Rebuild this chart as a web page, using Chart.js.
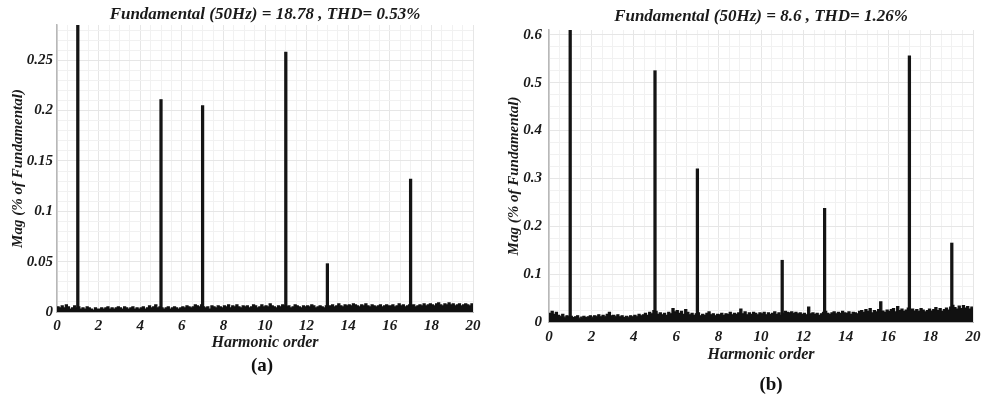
<!DOCTYPE html>
<html>
<head>
<meta charset="utf-8">
<script src="https://cdn.jsdelivr.net/npm/chart.js@4/dist/chart.umd.min.js"></script>
<style>
  body { margin: 0; background: #fff; width: 987px; height: 398px; position: relative; overflow: hidden; }
  canvas { position: absolute; top: 0; }
  .caption { position: absolute; font: bold 19px 'Liberation Serif', 'Times New Roman', serif; color: #111; transform: translate(-50%, -50%); }
</style>
</head>
<body>
<canvas id="chart_a" width="492" height="398" style="left:0"></canvas>
<canvas id="chart_b" width="495" height="398" style="left:492px"></canvas>
<div class="caption" style="left:262px;top:365px">(a)</div>
<div class="caption" style="left:771px;top:384px">(b)</div>
<script>
// spectrum bins are 0.1 harmonic order apart, from 0 to 20
const binStep = 0.1;

// case (a): low-level spectrum floor, % of fundamental
const noise_a = [
  0.005, 0.004, 0.006, 0.004, 0.007, 0.005, 0.003, 0.004, 0.006, 0.004,
  0.005, 0.003, 0.004, 0.003, 0.005, 0.004, 0.003, 0.002, 0.004, 0.003,
  0.003, 0.004, 0.003, 0.004, 0.005, 0.003, 0.004, 0.003, 0.004, 0.005,
  0.004, 0.003, 0.005, 0.004, 0.003, 0.004, 0.005, 0.003, 0.004, 0.003,
  0.004, 0.005, 0.003, 0.004, 0.006, 0.004, 0.005, 0.007, 0.004, 0.005,
  0.004, 0.003, 0.004, 0.005, 0.003, 0.004, 0.005, 0.004, 0.003, 0.004,
  0.005, 0.004, 0.006, 0.005, 0.004, 0.005, 0.007, 0.006, 0.005, 0.007,
  0.005, 0.004, 0.005, 0.003, 0.006, 0.005, 0.004, 0.006, 0.005, 0.004,
  0.006, 0.005, 0.007, 0.004, 0.006, 0.005, 0.007, 0.005, 0.004, 0.006,
  0.005, 0.006, 0.004, 0.005, 0.007, 0.006, 0.004, 0.005, 0.007, 0.005,
  0.006, 0.005, 0.008, 0.006, 0.005, 0.004, 0.006, 0.005, 0.007, 0.006,
  0.005, 0.006, 0.004, 0.005, 0.007, 0.006, 0.005, 0.004, 0.006, 0.005,
  0.006, 0.005, 0.007, 0.006, 0.004, 0.005, 0.006, 0.005, 0.004, 0.006,
  0.005, 0.006, 0.007, 0.005, 0.006, 0.008, 0.006, 0.005, 0.007, 0.006,
  0.007, 0.006, 0.008, 0.007, 0.006, 0.005, 0.007, 0.006, 0.008, 0.006,
  0.005, 0.007, 0.006, 0.005, 0.006, 0.007, 0.005, 0.006, 0.007, 0.006,
  0.006, 0.007, 0.005, 0.006, 0.008, 0.006, 0.007, 0.005, 0.006, 0.007,
  0.006, 0.007, 0.005, 0.006, 0.007, 0.006, 0.008, 0.006, 0.007, 0.008,
  0.007, 0.006, 0.008, 0.009, 0.007, 0.006, 0.008, 0.007, 0.009, 0.007,
  0.008, 0.006, 0.007, 0.008, 0.006, 0.007, 0.008, 0.007, 0.006, 0.008,
  0.007
];
const orders_a = [1, 5, 7, 11, 13, 17];
const mags_a = [100, 0.211, 0.205, 0.258, 0.048, 0.132];

// case (b)
const noise_b = [
  0.018, 0.022, 0.016, 0.020, 0.014, 0.012, 0.016, 0.010, 0.013, 0.011,
  0.012, 0.009, 0.011, 0.013, 0.008, 0.010, 0.012, 0.009, 0.011, 0.013,
  0.010, 0.013, 0.012, 0.015, 0.011, 0.014, 0.012, 0.016, 0.020, 0.013,
  0.014, 0.012, 0.015, 0.011, 0.013, 0.009, 0.012, 0.010, 0.013, 0.011,
  0.014, 0.012, 0.016, 0.013, 0.015, 0.018, 0.014, 0.020, 0.017, 0.024,
  0.022, 0.016, 0.019, 0.015, 0.018, 0.014, 0.020, 0.017, 0.028, 0.021,
  0.024, 0.018, 0.022, 0.016, 0.026, 0.020, 0.015, 0.018, 0.014, 0.017,
  0.019, 0.013, 0.016, 0.014, 0.018, 0.021, 0.015, 0.017, 0.013, 0.016,
  0.015, 0.018, 0.014, 0.017, 0.016, 0.020, 0.015, 0.018, 0.016, 0.019,
  0.027, 0.017, 0.021, 0.015, 0.019, 0.016, 0.020, 0.018, 0.015, 0.019,
  0.017, 0.020, 0.015, 0.019, 0.016, 0.018, 0.021, 0.016, 0.019, 0.014,
  0.018, 0.022, 0.020, 0.019, 0.021, 0.018, 0.020, 0.017, 0.019, 0.016,
  0.018, 0.015, 0.031, 0.017, 0.019, 0.016, 0.018, 0.014, 0.017, 0.020,
  0.022, 0.018, 0.016, 0.019, 0.021, 0.017, 0.020, 0.018, 0.022, 0.019,
  0.018, 0.021, 0.016, 0.020, 0.019, 0.017, 0.022, 0.024, 0.020, 0.026,
  0.022, 0.028, 0.019, 0.024, 0.021, 0.026, 0.042, 0.023, 0.020, 0.025,
  0.022, 0.026, 0.028, 0.021, 0.032, 0.024, 0.027, 0.022, 0.025, 0.029,
  0.024, 0.027, 0.023, 0.026, 0.022, 0.028, 0.025, 0.021, 0.024, 0.027,
  0.023, 0.026, 0.030, 0.024, 0.028, 0.022, 0.026, 0.029, 0.025, 0.031,
  0.035, 0.030, 0.027, 0.033, 0.028, 0.034, 0.029, 0.032, 0.027, 0.031,
  0.030
];
const orders_b = [1, 5, 7, 11, 13, 17, 19];
const mags_b = [100, 0.525, 0.32, 0.129, 0.2375, 0.556, 0.165];

const FAMILY = "'Liberation Serif', 'Times New Roman', serif";
const textColor = '#1a1a1a';

function isMultiple(v, step) {
  const r = v / step;
  return Math.abs(r - Math.round(r)) < 1e-6;
}

function render_chart(id, cfg) {
  const ctx = document.getElementById(id).getContext('2d');
  const floor = cfg.noise.map((v, i) => ({ x: +(i * binStep).toFixed(1), y: v }));
  const spikes = cfg.orders.map((h, i) => ({ x: h, y: cfg.mags[i] }));
  const tickFont = { family: FAMILY, size: 15, weight: 'bold', style: 'italic' };

  return new Chart(ctx, {
    type: 'bar',
    data: {
      datasets: [
        {
          type: 'line',
          data: floor,
          stepped: true,
          fill: 'origin',
          backgroundColor: '#111',
          borderColor: '#111',
          borderWidth: 1.2,
          pointRadius: 0
        },
        {
          type: 'bar',
          data: spikes,
          backgroundColor: '#141414',
          barThickness: 2.6
        }
      ]
    },
    options: {
      responsive: false,
      animation: false,
      layout: { padding: { left: 0, right: cfg.padRight, top: 0, bottom: cfg.padBottom } },
      plugins: {
        legend: { display: false },
        tooltip: { enabled: false },
        title: {
          display: true,
          fullSize: false,
          text: cfg.title,
          color: textColor,
          font: { family: FAMILY, size: 17, weight: 'bold', style: 'italic' },
          padding: cfg.titlePad
        }
      },
      scales: {
        x: {
          type: 'linear',
          min: 0,
          max: 20,
          offset: false,
          afterFit: (s) => { s.height = cfg.xHeight; },
          ticks: {
            stepSize: 0.5,
            autoSkip: false,
            maxRotation: 0,
            padding: cfg.xTickPad,
            color: textColor,
            font: tickFont,
            callback: (v) => (isMultiple(v, 2) ? String(v) : '')
          },
          grid: {
            offset: false,
            drawTicks: false,
            color: (c) => (isMultiple(c.tick.value, 2) ? '#e6e6e6' : '#f1f1f1')
          },
          border: { color: '#b8b8b8', width: 1 },
          title: {
            display: true,
            text: 'Harmonic order',
            color: textColor,
            font: { family: FAMILY, size: 16, weight: 'bold', style: 'italic' },
            padding: { top: 0, bottom: 2 }
          }
        },
        y: {
          min: 0,
          max: cfg.yMax,
          afterFit: (s) => { s.width = 57; },
          ticks: {
            stepSize: cfg.yStep,
            includeBounds: false,
            autoSkip: false,
            padding: cfg.yTickPad,
            color: textColor,
            font: tickFont,
            callback: (v) => (isMultiple(v, cfg.yMajor) ? String(+v.toFixed(3)) : '')
          },
          grid: {
            drawTicks: false,
            color: (c) => (isMultiple(c.tick.value, cfg.yMajor) ? '#e6e6e6' : '#f1f1f1')
          },
          border: { color: '#b8b8b8', width: 1.5 },
          title: {
            display: true,
            text: 'Mag (% of Fundamental)',
            color: textColor,
            font: { family: FAMILY, size: 15, weight: 'bold', style: 'italic' },
            padding: { top: cfg.yTitlePad, bottom: 0 }
          }
        }
      }
    }
  });
}

render_chart('chart_a', {
  title: 'Fundamental (50Hz) = 18.78 , THD= 0.53%',
  noise: noise_a, orders: orders_a, mags: mags_a,
  yMax: 0.285, yStep: 0.01, yMajor: 0.05,
  padRight: 19, padBottom: 43.5,
  titlePad: { top: 4, bottom: 0.6 },
  xHeight: 42.5, xTickPad: 5,
  yTickPad: 4, yTitlePad: 9
});

render_chart('chart_b', {
  title: 'Fundamental (50Hz) = 8.6 , THD= 1.26%',
  noise: noise_b, orders: orders_b, mags: mags_b,
  yMax: 0.61, yStep: 0.025, yMajor: 0.1,
  padRight: 9, padBottom: 32,
  titlePad: { top: 6, bottom: 3.6 },
  xHeight: 44, xTickPad: 6.5,
  yTickPad: 7, yTitlePad: 13
});
</script>
</body>
</html>
